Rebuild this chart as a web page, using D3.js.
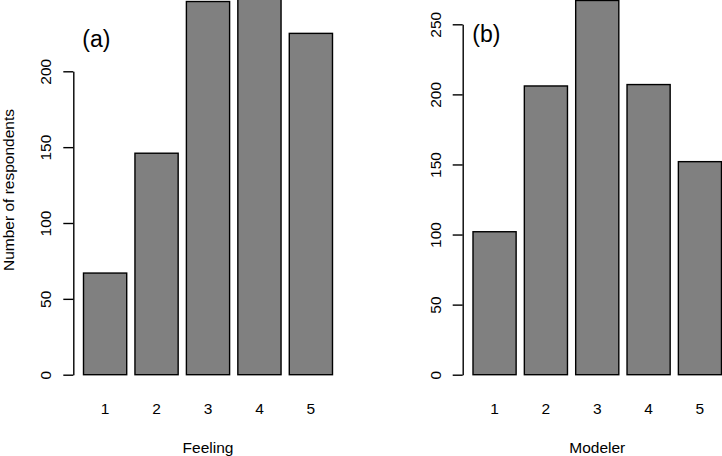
<!DOCTYPE html>
<html>
<head>
<meta charset="utf-8">
<script src="https://cdn.jsdelivr.net/npm/d3@7"></script>
<style>
  html, body { margin: 0; padding: 0; background: #fff; }
  svg { display: block; }
  text { font-family: "Liberation Sans", Arial, Helvetica, sans-serif; fill: #000; }
</style>
</head>
<body>
<svg id="chart" width="722" height="456"></svg>
<script>
const categories = ["1", "2", "3", "4", "5"];
const feelingCounts = [67, 146, 246, 248, 225];
const modelerCounts = [102, 206, 267, 207, 152];
const feelingTicks = [0, 50, 100, 150, 200];
const modelerTicks = [0, 50, 100, 150, 200, 250];
const panelLabels = ["(a)", "(b)"];
const xTitles = ["Feeling", "Modeler"];
const yTitle = "Number of respondents";

const svg = d3.select("#chart");

const panels = [
  { values: feelingCounts, ticks: feelingTicks, yMax: 200, yTopPx: 71.3,
    axisX: 73.3, barRange: [83.5, 332.5], label: panelLabels[0], labelPos: [82.3, 47],
    xTitle: xTitles[0] },
  { values: modelerCounts, ticks: modelerTicks, yMax: 250, yTopPx: 24.3,
    axisX: 462.7, barRange: [473, 721.5], label: panelLabels[1], labelPos: [472.3, 42],
    xTitle: xTitles[1] }
];

const y0px = 374.7;

panels.forEach(p => {
  const x = d3.scaleBand().domain(categories).range(p.barRange)
    .paddingInner(0.16).paddingOuter(0);
  const y = d3.scaleLinear().domain([0, p.yMax]).range([y0px, p.yTopPx]);

  const g = svg.append("g");

  // bars
  g.selectAll("rect.bar").data(p.values).join("rect")
    .attr("class", "bar")
    .attr("x", (d, i) => x(categories[i]))
    .attr("width", x.bandwidth())
    .attr("y", d => y(d))
    .attr("height", d => y(0) - y(d))
    .attr("fill", "#808080")
    .attr("stroke", "#000")
    .attr("stroke-width", 1.4);

  // y axis
  const yAxis = g.append("g")
    .attr("transform", `translate(${p.axisX},0)`)
    .call(d3.axisLeft(y).tickValues(p.ticks).tickSize(10).tickSizeOuter(0)
      .tickFormat(d3.format("d")));
  yAxis.select(".domain").attr("stroke", "#000").attr("stroke-width", 1.4);
  yAxis.selectAll(".tick line").attr("stroke", "#000").attr("stroke-width", 1.4);
  yAxis.selectAll(".tick text")
    .attr("x", null).attr("dy", null).attr("y", null)
    .attr("transform", "translate(-22,0) rotate(-90)")
    .attr("text-anchor", "middle")
    .style("font-size", "15.5px")
    .style("font-family", "'Liberation Sans', Arial, sans-serif");

  // x category labels (no axis line)
  const xAxis = g.append("g")
    .attr("transform", `translate(0,${y0px})`)
    .call(d3.axisBottom(x).tickSize(0));
  xAxis.select(".domain").remove();
  xAxis.selectAll(".tick text")
    .attr("y", 414.5 - y0px).attr("dy", null)
    .style("font-size", "15.5px")
    .style("font-family", "'Liberation Sans', Arial, sans-serif");

  // x title
  const xMid = (x(categories[0]) + x(categories[4]) + x.bandwidth()) / 2;
  g.append("text")
    .attr("x", xMid).attr("y", 453)
    .attr("text-anchor", "middle")
    .style("font-size", "15.5px")
    .text(p.xTitle);

  // panel label
  g.append("text")
    .attr("x", p.labelPos[0]).attr("y", p.labelPos[1])
    .style("font-size", "23px")
    .text(p.label);
});

// y title
svg.append("text")
  .attr("transform", "translate(14,190) rotate(-90)")
  .attr("text-anchor", "middle")
  .style("font-size", "15.5px")
  .text(yTitle);
</script>
</body>
</html>
